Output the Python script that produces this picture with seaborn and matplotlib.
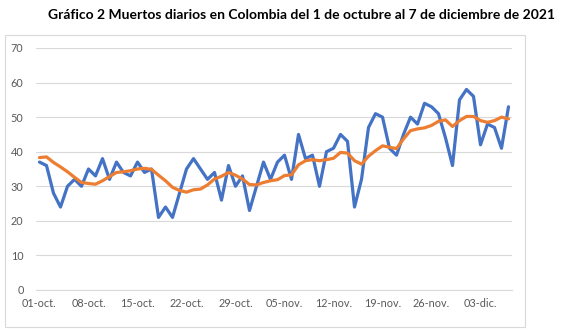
import numpy as np
import pandas as pd
import matplotlib
matplotlib.use("Agg")
import matplotlib.pyplot as plt
from matplotlib.patches import Rectangle
from matplotlib.ticker import FixedLocator
import seaborn as sns

# ---- data ----
title = "Gráfico 2 Muertos diarios en Colombia del 1 de octubre al 7 de diciembre de 2021"
tick_labels = ["01-oct.", "08-oct.", "15-oct.", "22-oct.", "29-oct.",
               "05-nov.", "12-nov.", "19-nov.", "26-nov.", "03-dic."]
deaths = [37, 36, 28, 24, 30, 32, 30, 35, 33, 38, 32, 37, 34, 33, 37, 34, 35,
          21, 24, 21, 28, 35, 38, 35, 32, 34, 26, 36, 30, 33, 23, 30, 37, 32,
          37, 39, 32, 45, 38, 39, 30, 40, 41, 45, 43, 24, 32, 47, 51, 50, 41,
          39, 45, 50, 48, 54, 53, 51, 44, 36, 55, 58, 56, 42, 48, 47, 41, 53]
moving_avg = [38.3, 38.5, 36.9, 35.6, 34.2, 32.6, 31.1, 30.8, 30.6, 31.6, 32.8,
              34.0, 34.2, 34.5, 35.0, 35.2, 34.9, 33.2, 31.6, 29.7, 28.8, 28.3,
              29.0, 29.2, 30.4, 32.1, 32.9, 34.0, 33.2, 32.1, 30.5, 30.4, 31.1,
              31.6, 31.9, 33.1, 33.3, 36.2, 37.4, 37.7, 37.4, 37.7, 38.1, 39.8,
              39.6, 37.4, 36.4, 38.7, 40.3, 41.7, 41.3, 40.9, 43.7, 46.1, 46.6,
              46.9, 47.6, 48.8, 49.2, 47.3, 49.0, 50.2, 50.2, 49.0, 48.5, 49.0,
              50.0, 49.5]

df = pd.DataFrame({"day": np.arange(len(deaths)),
                   "deaths": deaths,
                   "avg": moving_avg})

sns.set_style("white")
plt.rcParams["font.family"] = ["Lato", "DejaVu Sans"]

W, H = 570, 329
fig = plt.figure(figsize=(W / 100, H / 100), dpi=100)
ax = fig.add_axes([36 / W, 1 - 290 / H, (512 - 36) / W, (290 - 48) / H])

sns.lineplot(data=df, x="day", y="deaths", ax=ax, color="#4472C4", lw=2.3)
sns.lineplot(data=df, x="day", y="avg", ax=ax, color="#ED7D31", lw=2.3)

n = len(deaths)
ax.set_xlim(-0.5, n - 0.5)
ax.set_ylim(0, 70)
ax.set_yticks(np.arange(0, 71, 10))
ax.set_xticks(np.arange(0, 7 * len(tick_labels), 7))
ax.set_xticklabels(tick_labels)
ax.xaxis.set_minor_locator(FixedLocator(np.arange(-0.5, 7 * len(tick_labels) - 0.5, 7)))
ax.tick_params(axis="x", which="major", length=0, pad=6, labelsize=7.8, colors="#595959")
ax.tick_params(axis="x", which="minor", length=3, width=0.8, color="#D9D9D9", direction="out")
ax.tick_params(axis="y", length=0, pad=9, labelsize=7.8, colors="#595959")
ax.set_xlabel("")
ax.set_ylabel("")
ax.grid(axis="y", color="#D9D9D9", lw=0.8)
ax.grid(axis="x", visible=False)
for s in ["left", "right", "top"]:
    ax.spines[s].set_visible(False)
ax.spines["bottom"].set_color("#D9D9D9")
ax.spines["bottom"].set_linewidth(0.8)
ax.set_axisbelow(True)

fig.text(301 / W, 1 - 15 / H, title, ha="center", va="center",
         fontsize=10, fontweight="bold", color="black")

fig.add_artist(Rectangle((5 / W, 1 - 327 / H), (525 - 5) / W, (327 - 35) / H,
                         transform=fig.transFigure, fill=False,
                         edgecolor="#D9D9D9", lw=0.8))

fig.savefig("out.png", dpi=100)
